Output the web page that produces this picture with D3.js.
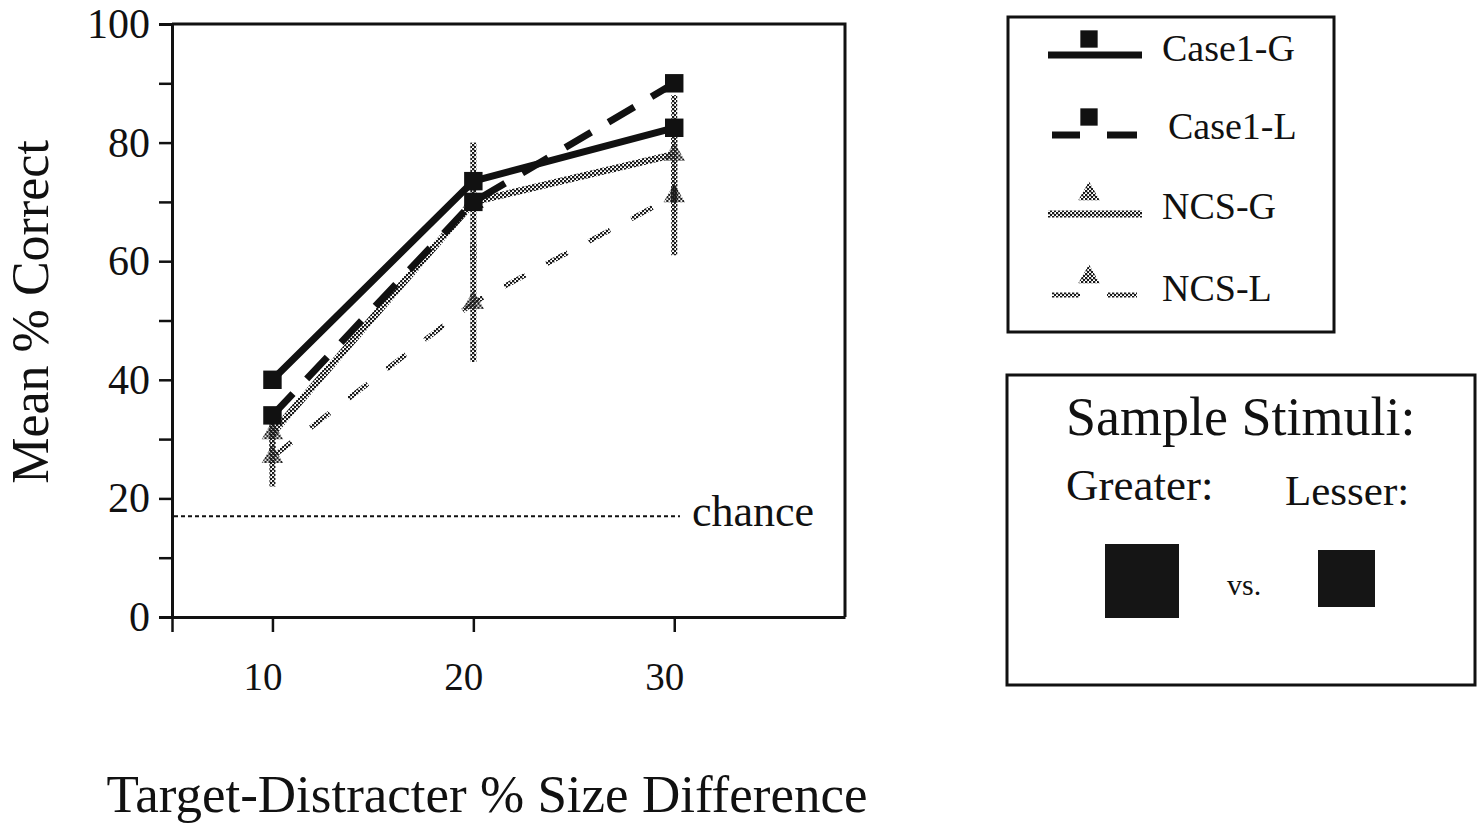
<!DOCTYPE html>
<html>
<head>
<meta charset="utf-8">
<script src="https://cdn.jsdelivr.net/npm/d3@7"></script>
<style>
  body { margin: 0; background: #fff; }
  svg text { font-family: 'Liberation Serif', 'Times New Roman', serif; fill: #111; }
</style>
</head>
<body>
<div id="chart"></div>
<script>
'use strict'

// data
const sizeDiffs = [10, 20, 30]
const case1G = [40, 73.5, 82.5]
const case1L = [34, 70, 90]
const ncsG = [31, 70, 78]
const ncsL = [27, 53, 71]
const ncsGErr = [3, 10, 10]
const ncsLErr = [5, 10, 10]
const chance = 17
const yTicks = [0, 10, 20, 30, 40, 50, 60, 70, 80, 90, 100]
const xTicks = [5, 10, 20, 30]
const legendNames = ['Case1-G', 'Case1-L', 'NCS-G', 'NCS-L']

const width = 1479,
    height = 824

const svg = d3.select('#chart').append('svg')
  .attr('width', width)
  .attr('height', height)

// grey "hatched" texture used by the control group marks
const hatch = svg.append('defs').append('pattern')
    .attr('id', 'hatch')
    .attr('patternUnits', 'userSpaceOnUse')
    .attr('width', 4)
    .attr('height', 4)
hatch.append('rect').attr('x', 0).attr('y', 0).attr('width', 2.3).attr('height', 2.3).attr('fill', '#1a1a1a')
hatch.append('rect').attr('x', 2).attr('y', 2).attr('width', 2.3).attr('height', 2.3).attr('fill', '#1a1a1a')

const x = d3.scaleLinear().domain([5, 38.5]).range([172, 845])
const y = d3.scaleLinear().domain([0, 100]).range([617, 24])

// frame top + right
svg.append('path')
  .attr('d', `M${x(5)},${y(100)}H${x(38.5)}V${y(0)}`)
  .attr('fill', 'none')
  .attr('stroke', '#111')
  .attr('stroke-width', 3)

const yAxis = svg.append('g')
  .attr('transform', `translate(${x(5)},0)`)
  .call(d3.axisLeft(y).tickValues(yTicks).tickSize(13).tickPadding(9)
    .tickFormat(d => d % 20 === 0 ? d : ''))
yAxis.select('.domain').attr('stroke-width', 3).attr('stroke', '#111')
yAxis.selectAll('.tick line').attr('stroke-width', 2.5).attr('stroke', '#111')
yAxis.selectAll('.tick text').attr('font-size', 42).attr('font-family', "'Liberation Serif', serif")

const xAxis = svg.append('g')
  .attr('transform', `translate(0,${y(0)})`)
  .call(d3.axisBottom(x).tickValues(xTicks).tickSize(15).tickSizeOuter(0).tickPadding(30)
    .tickFormat(d => d === 5 ? '' : d))
xAxis.select('.domain').attr('stroke-width', 3).attr('stroke', '#111')
xAxis.selectAll('.tick line').attr('stroke-width', 2.5).attr('stroke', '#111')
xAxis.selectAll('.tick text').attr('font-size', 39).attr('dx', -10)
  .attr('font-family', "'Liberation Serif', serif")

// chance line
svg.append('line')
  .attr('x1', x(5) + 2).attr('x2', 680)
  .attr('y1', y(chance)).attr('y2', y(chance))
  .attr('stroke', '#111').attr('stroke-width', 2)
  .attr('stroke-dasharray', '4,3')
svg.append('text')
  .attr('x', 692).attr('y', y(chance) + 10)
  .attr('font-size', 44)
  .text('chance')

const line = d3.line()
  .x((d, i) => x(sizeDiffs[i]))
  .y(d => y(d))

// error bars for control group
const drawErr = (vals, errs) => {
  svg.append('g').selectAll('line')
    .data(vals)
    .enter().append('line')
      .attr('x1', (d, i) => x(sizeDiffs[i]))
      .attr('x2', (d, i) => x(sizeDiffs[i]))
      .attr('y1', (d, i) => y(d - errs[i]))
      .attr('y2', (d, i) => y(d + errs[i]))
      .attr('stroke', 'url(#hatch)')
      .attr('stroke-width', 6)
}
drawErr(ncsL, ncsLErr)
drawErr(ncsG, ncsGErr)

const series = [
  { vals: ncsL, stroke: 'url(#hatch)', w: 5, dash: '24,24', sym: d3.symbolTriangle, fill: 'url(#hatch)' },
  { vals: ncsG, stroke: 'url(#hatch)', w: 7, dash: null, sym: d3.symbolTriangle, fill: 'url(#hatch)' },
  { vals: case1L, stroke: '#111', w: 7, dash: '30,20', sym: d3.symbolSquare, fill: '#111' },
  { vals: case1G, stroke: '#111', w: 7, dash: null, sym: d3.symbolSquare, fill: '#111' }
]

series.forEach(s => {
  svg.append('path')
    .datum(s.vals)
    .attr('d', line)
    .attr('fill', 'none')
    .attr('stroke', s.stroke)
    .attr('stroke-width', s.w)
    .attr('stroke-dasharray', s.dash)
  svg.append('g').selectAll('path')
    .data(s.vals)
    .enter().append('path')
      .attr('transform', (d, i) => `translate(${x(sizeDiffs[i])},${y(d)})`)
      .attr('d', d3.symbol().type(s.sym).size(s.sym === d3.symbolSquare ? 340 : 200))
      .attr('fill', s.fill)
})

// axis titles
svg.append('text')
  .attr('x', 487).attr('y', 812)
  .attr('text-anchor', 'middle')
  .attr('font-size', 53)
  .text('Target-Distracter % Size Difference')
svg.append('text')
  .attr('transform', 'translate(48,312) rotate(-90)')
  .attr('text-anchor', 'middle')
  .attr('font-size', 52)
  .text('Mean % Correct')

// legend box
const lg = svg.append('g')
lg.append('rect')
  .attr('x', 1008).attr('y', 17).attr('width', 326).attr('height', 315)
  .attr('fill', 'none').attr('stroke', '#111').attr('stroke-width', 3)

const legendRows = [
  { name: legendNames[0], s: series[3], ly: 55, my: 39, tx: 1162, ty: 61 },
  { name: legendNames[1], s: series[2], ly: 135, my: 117, tx: 1168, ty: 139 },
  { name: legendNames[2], s: series[1], ly: 214, my: 194, tx: 1162, ty: 219 },
  { name: legendNames[3], s: series[0], ly: 295, my: 277, tx: 1162, ty: 301 }
]
legendRows.forEach(r => {
  if (r.s.dash) {
    lg.append('line').attr('x1', 1052).attr('x2', 1080).attr('y1', r.ly).attr('y2', r.ly)
      .attr('stroke', r.s.stroke).attr('stroke-width', r.s.w)
    lg.append('line').attr('x1', 1107).attr('x2', 1137).attr('y1', r.ly).attr('y2', r.ly)
      .attr('stroke', r.s.stroke).attr('stroke-width', r.s.w)
  } else {
    lg.append('line').attr('x1', 1048).attr('x2', 1142).attr('y1', r.ly).attr('y2', r.ly)
      .attr('stroke', r.s.stroke).attr('stroke-width', r.s.w)
  }
  lg.append('path')
    .attr('transform', `translate(1089,${r.my})`)
    .attr('d', d3.symbol().type(r.s.sym).size(r.s.sym === d3.symbolSquare ? 300 : 200))
    .attr('fill', r.s.fill)
  lg.append('text')
    .attr('x', r.tx).attr('y', r.ty)
    .attr('font-size', 38)
    .text(r.name)
})

// sample stimuli box
const sb = svg.append('g')
sb.append('rect')
  .attr('x', 1007).attr('y', 375).attr('width', 468).attr('height', 310)
  .attr('fill', 'none').attr('stroke', '#111').attr('stroke-width', 3)
sb.append('text').attr('x', 1066).attr('y', 435).attr('font-size', 54).text('Sample Stimuli:')
sb.append('text').attr('x', 1066).attr('y', 500).attr('font-size', 45).text('Greater:')
sb.append('text').attr('x', 1285).attr('y', 505).attr('font-size', 43).text('Lesser:')
sb.append('rect').attr('x', 1105).attr('y', 544).attr('width', 74).attr('height', 74).attr('fill', '#151515')
sb.append('rect').attr('x', 1318).attr('y', 550).attr('width', 57).attr('height', 57).attr('fill', '#151515')
sb.append('text').attr('x', 1227).attr('y', 595).attr('font-size', 30).text('vs.')
</script>
</body>
</html>
